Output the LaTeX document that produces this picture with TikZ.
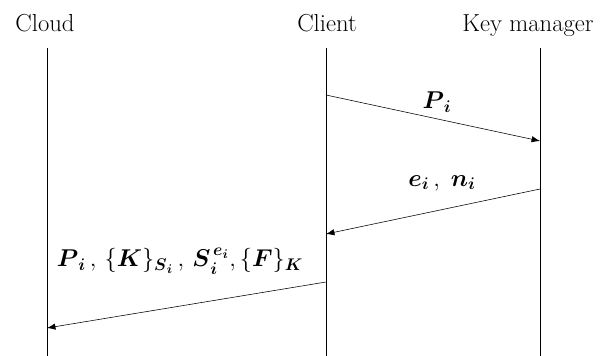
\documentclass[tikz,border=0pt]{standalone}
\usepackage{amsmath}
\usepackage{fontspec}
\usetikzlibrary{arrows.meta}

\newcommand{\bv}[1]{\boldsymbol{#1}}

\tikzset{
  actor/.style={font=\fontsize{17.5}{20}\selectfont, anchor=base},
  lifeline/.style={semithick},
  msg/.style={thin, -{Latex[length=6pt,width=4.5pt]}},
  msglabel/.style={font=\fontsize{18}{22}\selectfont},
}

\begin{document}
\begin{tikzpicture}[x=0.025cm, y=-0.025cm]
    \useasboundingbox (0,0) rectangle (601,356);

    % Actors
    \node[actor] (cloud) at (45,31) {Cloud};
    \node[actor] (client) at (327,31) {Client};
    \node[actor] (keymgr) at (528,31) {Key manager};

    % Lifelines
    \coordinate (cloudtop) at (47,48);
    \coordinate (clienttop) at (326,48);
    \coordinate (keytop) at (540,48);
    \coordinate (cloudbot) at (47,356);
    \coordinate (clientbot) at (326,356);
    \coordinate (keybot) at (540,356);
    \draw[lifeline] (cloudtop) -- (cloudbot);
    \draw[lifeline] (clienttop) -- (clientbot);
    \draw[lifeline] (keytop) -- (keybot);

    % Messages
    \coordinate (m1s) at (326,95);
    \coordinate (m1e) at (540,141);
    \coordinate (m2s) at (540,189);
    \coordinate (m2e) at (326,234);
    \coordinate (m3s) at (326,282);
    \coordinate (m3e) at (47,328);
    \draw[msg] (m1s) -- (m1e);
    \draw[msg] (m2s) -- (m2e);
    \draw[msg] (m3s) -- (m3e);

    % Labels
    \node[msglabel] (pilabel) at (437,102) {$\bv{P}_{\bv{i}}$};
    \node[msglabel] (enlabel) at (442,183) {$\bv{e}_{\bv{i}}\, ,\; \bv{n}_{\bv{i}}$};
    \node[msglabel] (uplabel) at (180,261) {$\bv{P}_{\bv{i}}\, ,\, \{\bv{K}\}_{\bv{S}_{\bv{i}}}\, ,\, \bv{S}_{\bv{i}}^{\,\bv{e}_{\bv{i}}}, \{\bv{F}\}_{\bv{K}}$};
\end{tikzpicture}
\end{document}
